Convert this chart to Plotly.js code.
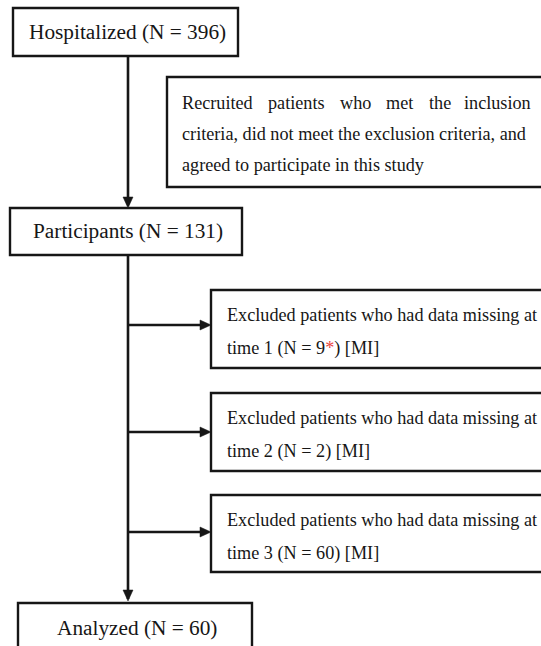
<!DOCTYPE html>
<html>
<head>
<meta charset="utf-8">
<script src="https://cdn.plot.ly/plotly-3.0.1.min.js"></script>
<style>html,body{margin:0;padding:0;background:#fff;}#chart{width:541px;height:646px;}</style>
</head>
<body>
<div id="chart"></div>
<script>
// ---- content ----
const mainLabels = ["Hospitalized (N = 396)", "Participants (N = 131)", "Analyzed (N = 60)"];
const recruitWords = ["Recruited", "patients", "who", "met", "the", "inclusion"];
const recruitLines = ["criteria, did not meet the exclusion criteria, and", "agreed to participate in this study"];
const excludedPrefix = "Excluded patients who had data missing at";
const excludedTimes = ["1", "2", "3"];
const excludedN = ["9<span style=\"color:#e8453c\">*</span>", "2", "60"];
const excludedTag = "[MI]";

// ---- layout geometry (pixels of the 541x646 canvas) ----
const mainBoxes = [[13, 238, 8, 56], [10, 242, 208, 255], [18, 252, 603, 680]];
const mainTextY = [32, 231, 628];
const spineX = 128;
const recruitBox = [167, 560, 77, 187];
const recruitWordX = [181, 267, 339, 385, 428, 532];
const recruitLineY = [103, 134, 165];
const exclBoxes = [[211, 560, 290, 368], [211, 560, 393, 471], [211, 560, 495, 572]];
const exclArrowY = [325, 432, 532];
const exclTextX = 226;

const ink = "#161616";
const font = {family: "Liberation Serif, Times New Roman, serif", color: ink};
const shapes = [];
const annotations = [];

function rect(b) {
  shapes.push({type: "rect", xref: "x", yref: "y", x0: b[0], x1: b[1], y0: b[2], y1: b[3],
    line: {color: ink, width: 2.4}, fillcolor: "rgba(0,0,0,0)", layer: "above"});
}
function line(x0, y0, x1, y1) {
  shapes.push({type: "line", xref: "x", yref: "y", x0, y0, x1, y1, line: {color: ink, width: 2.6}});
}
function headDown(x, y) {
  shapes.push({type: "path", xref: "x", yref: "y", path: `M${x},${y} L${x - 5},${y - 11} L${x + 5},${y - 11} Z`,
    fillcolor: ink, line: {color: ink, width: 0.5}});
}
function headRight(x, y) {
  shapes.push({type: "path", xref: "x", yref: "y", path: `M${x},${y} L${x - 11},${y - 5} L${x - 11},${y + 5} Z`,
    fillcolor: ink, line: {color: ink, width: 0.5}});
}
function text(t, x, y, size, anchor) {
  annotations.push({text: t, x, y, xref: "x", yref: "y", showarrow: false, xanchor: anchor || "center",
    yanchor: "middle", font: Object.assign({size}, font), borderpad: 0});
}

// main boxes
mainBoxes.forEach((b, i) => { rect(b); text(mainLabels[i], (b[0] + b[1]) / 2 + 2, mainTextY[i], 21.3); });
// spine
line(spineX, mainBoxes[0][3], spineX, mainBoxes[1][2] - 3);
headDown(spineX, mainBoxes[1][2]);
line(spineX, mainBoxes[1][3], spineX, mainBoxes[2][2] - 4);
headDown(spineX, mainBoxes[2][2] - 2);

// recruited box
rect(recruitBox);
recruitWords.forEach((w, i) => text(w, recruitWordX[i], recruitLineY[0], 18.2, i === recruitWords.length - 1 ? "right" : "left"));
recruitLines.forEach((l, i) => text(l, recruitWordX[0], recruitLineY[i + 1], 18.2, "left"));

// excluded boxes
exclBoxes.forEach((b, i) => {
  rect(b);
  line(spineX, exclArrowY[i], b[0] - 9, exclArrowY[i]);
  headRight(b[0], exclArrowY[i]);
  text(excludedPrefix, exclTextX, b[2] + 25, 18.2, "left");
  text("time " + excludedTimes[i] + " (N = " + excludedN[i] + ") " + excludedTag, exclTextX, b[2] + 58, 18.2, "left");
});

const layout = {
  width: 541, height: 646,
  margin: {l: 0, r: 0, t: 0, b: 0, pad: 0},
  paper_bgcolor: "#ffffff", plot_bgcolor: "#ffffff",
  showlegend: false,
  xaxis: {range: [0, 541], visible: false, fixedrange: true},
  yaxis: {range: [646, 0], visible: false, fixedrange: true},
  shapes, annotations
};
Plotly.newPlot("chart", [{x: [], y: [], type: "scatter", mode: "markers", hoverinfo: "skip"}], layout,
  {displayModeBar: false, staticPlot: true});
</script>
</body>
</html>
